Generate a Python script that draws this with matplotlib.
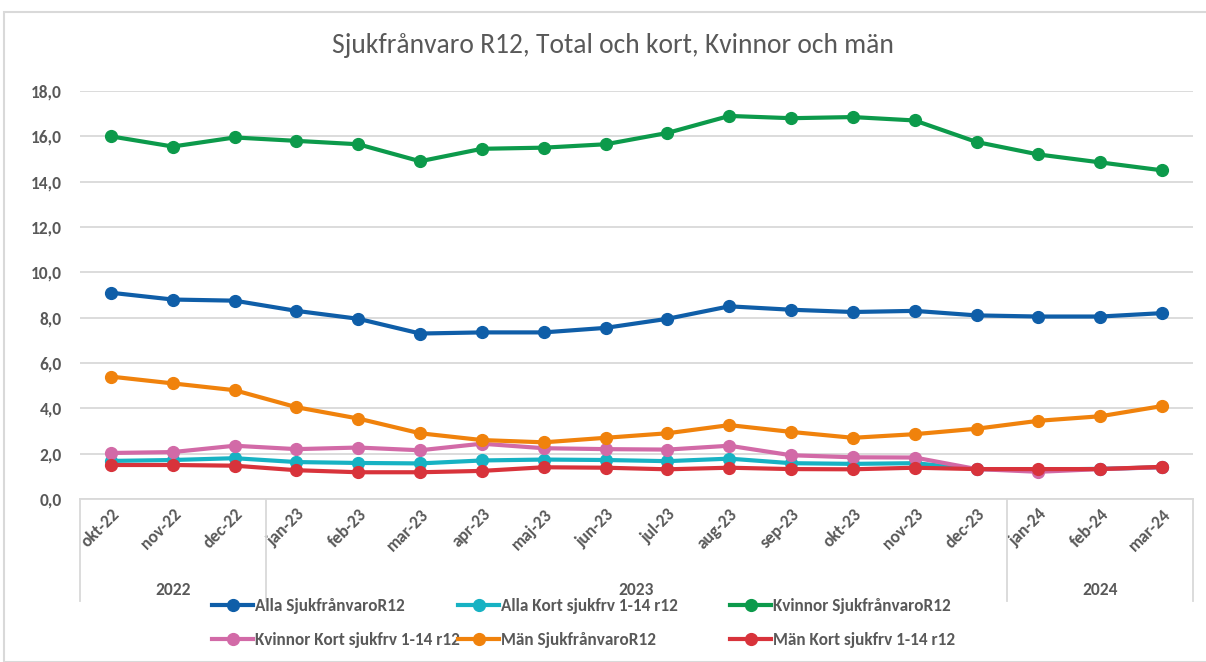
import matplotlib
matplotlib.use("Agg")
import matplotlib.pyplot as plt
from matplotlib.patches import Rectangle

plt.rcParams['font.family'] = ['Carlito', 'Liberation Sans Narrow', 'Open Sans', 'DejaVu Sans']

months = ["okt-22", "nov-22", "dec-22", "jan-23", "feb-23", "mar-23", "apr-23", "maj-23",
          "jun-23", "jul-23", "aug-23", "sep-23", "okt-23", "nov-23", "dec-23",
          "jan-24", "feb-24", "mar-24"]
years = ["2022", "2023", "2024"]
year_counts = [3, 12, 3]

alla_total = [9.1, 8.8, 8.75, 8.3, 7.95, 7.3, 7.35, 7.35, 7.55, 7.95, 8.5, 8.35, 8.25, 8.3, 8.1, 8.05, 8.05, 8.2]
alla_kort = [1.68, 1.72, 1.8, 1.63, 1.59, 1.57, 1.7, 1.74, 1.72, 1.67, 1.78, 1.58, 1.55, 1.58, 1.32, 1.3, 1.33, 1.4]
kvinnor_total = [16.0, 15.55, 15.95, 15.8, 15.65, 14.9, 15.45, 15.5, 15.65, 16.15, 16.9, 16.8, 16.85, 16.7, 15.75, 15.2, 14.85, 14.5]
kvinnor_kort = [2.03, 2.07, 2.35, 2.2, 2.27, 2.15, 2.44, 2.24, 2.2, 2.18, 2.35, 1.93, 1.84, 1.83, 1.32, 1.2, 1.32, 1.4]
man_total = [5.4, 5.1, 4.8, 4.05, 3.55, 2.9, 2.6, 2.5, 2.7, 2.9, 3.26, 2.96, 2.7, 2.86, 3.1, 3.45, 3.65, 4.1]
man_kort = [1.5, 1.5, 1.47, 1.27, 1.18, 1.18, 1.24, 1.4, 1.38, 1.31, 1.38, 1.32, 1.31, 1.38, 1.32, 1.32, 1.32, 1.42]

series = [
    ("Alla SjukfrånvaroR12", alla_total, "#0f5ea8"),
    ("Alla Kort sjukfrv 1-14 r12", alla_kort, "#17b2c3"),
    ("Kvinnor SjukfrånvaroR12", kvinnor_total, "#0c9a4b"),
    ("Kvinnor Kort sjukfrv 1-14 r12", kvinnor_kort, "#d26aa7"),
    ("Män SjukfrånvaroR12", man_total, "#f0820c"),
    ("Män Kort sjukfrv 1-14 r12", man_kort, "#d8333b"),
]

grey = "#595959"
fig = plt.figure(figsize=(12.06, 6.62), dpi=100)
fig.patches.append(Rectangle((4 / 1206, 0.0), 1.0, 1 - 12 / 662, transform=fig.transFigure,
                             fill=False, edgecolor="#d9d9d9", linewidth=1.5))

ax = fig.add_axes([80 / 1206, 1 - 499 / 662, (1193 - 80) / 1206, (499 - 91) / 662])
x = list(range(len(months)))
handles = []
for name, vals, col in series:
    h, = ax.plot(x, vals, color=col, linewidth=3, marker="o", markersize=8.5, label=name)
    handles.append(h)

ax.set_xlim(-0.5, len(months) - 0.5)
ax.set_ylim(0, 18)
ax.set_yticks(range(0, 19, 2))
ax.set_yticklabels([f"{v:.1f}".replace(".", ",") for v in range(0, 19, 2)],
                   fontsize=12.5, fontweight="bold", color=grey)
ax.set_xticks(x)
ax.set_xticklabels(months, rotation=45, ha="right", rotation_mode="anchor",
                   fontsize=12.5, fontweight="bold", color=grey)
ax.tick_params(axis="y", length=0, pad=13)
ax.tick_params(axis="x", length=0, pad=5)
ax.grid(axis="y", color="#d9d9d9", linewidth=1.3)
ax.set_axisbelow(True)
for s in ["top", "right", "left"]:
    ax.spines[s].set_visible(False)
ax.spines["bottom"].set_color("#d9d9d9")
ax.spines["bottom"].set_linewidth(1.3)

# year grouping below the month labels
trans = ax.get_xaxis_transform()
edge = -0.5
ax.plot([edge, edge], [0, -0.25], transform=trans, color="#d9d9d9", linewidth=1.3, clip_on=False)
for yr, n in zip(years, year_counts):
    ax.text(edge + n / 2, -0.222, yr, transform=trans, ha="center", va="center",
            fontsize=12.5, fontweight="bold", color=grey)
    edge += n
    ax.plot([edge, edge], [0, -0.25], transform=trans, color="#d9d9d9", linewidth=1.3, clip_on=False)

fig.suptitle("Sjukfrånvaro R12, Total och kort, Kvinnor och män", x=0.5 + 10 / 1206,
             y=1 - 45 / 662, va="center", fontsize=19.8, color=grey)

# legend: three columns, two rows, placed like the original
col_left = [212, 458, 730]
col_items = [[0, 3], [1, 4], [2, 5]]
for left, items in zip(col_left, col_items):
    leg = fig.legend([handles[i] for i in items], [series[i][0] for i in items],
                     loc="center left", bbox_to_anchor=(left / 1206, 1 - 623 / 662),
                     frameon=False, fontsize=12.3, handlelength=2.4, handletextpad=0.1,
                     borderpad=0, borderaxespad=0, labelspacing=1.05)
    for t in leg.get_texts():
        t.set_color(grey)
        t.set_fontweight("bold")

fig.savefig("out.png", dpi=100)
